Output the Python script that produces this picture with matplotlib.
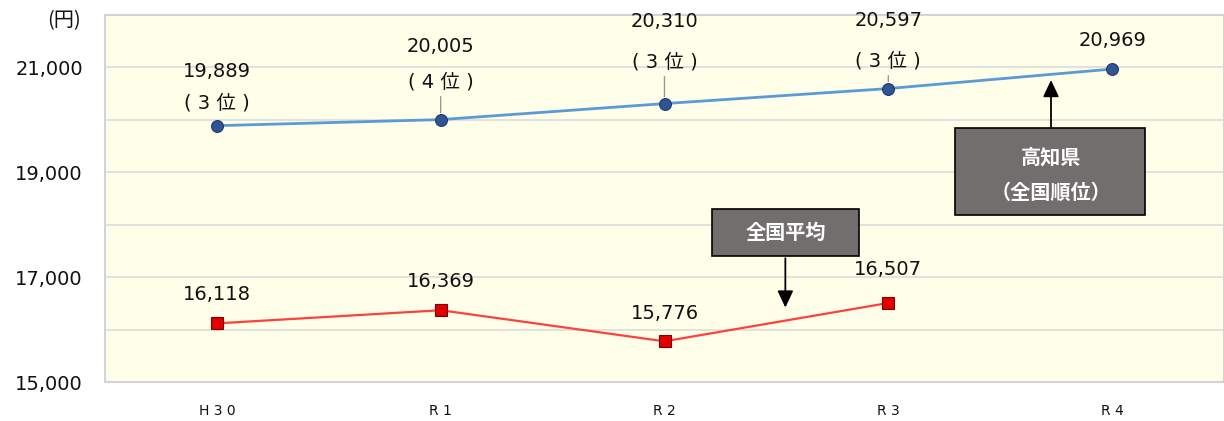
import matplotlib
matplotlib.use("Agg")
import matplotlib.pyplot as plt
from matplotlib.patches import Rectangle

plt.rcParams["font.family"] = ["DejaVu Sans", "Noto Sans CJK JP"]
JP = ["Noto Sans CJK JP", "DejaVu Sans"]

years = ["H 3 0", "R 1", "R 2", "R 3", "R 4"]
kochi = [19889, 20005, 20310, 20597, 20969]
kochi_rank = ["( 3 位 )", "( 4 位 )", "( 3 位 )", "( 3 位 )", None]
national = [16118, 16369, 15776, 16507]

# label offsets in pixels above each marker
kochi_val_off = [54, 73, 82, 68, 29]
kochi_rank_off = [23, 38, 42, 28, None]
kochi_leader = [False, True, True, True, False]
nat_val_off = [29, 29, 28, 33]

fig = plt.figure(figsize=(12.24, 4.21), dpi=100)
ax = fig.add_axes([105 / 1224, 1 - 382 / 421, 1 - 105 / 1224, 367 / 421])
ax.set_facecolor("#fefee9")

x = list(range(len(years)))
ax.plot(x, kochi, color="#5b9bd5", lw=2, zorder=3)
ax.plot(x, kochi, ls="none", marker="o", ms=8.5, mfc="#2f5597", mec="#1f3864", mew=0.8, zorder=4)
xn = x[:len(national)]
ax.plot(xn, national, color="#ff4040", lw=1.6, zorder=3)
ax.plot(xn, national, ls="none", marker="s", ms=8, mfc="#e00000", mec="#800000", mew=0.8, zorder=4)

for i, v in enumerate(kochi):
    ax.annotate(f"{v:,}", (i, v), xytext=(0, kochi_val_off[i]), textcoords="offset pixels",
                ha="center", va="center", fontsize=14, color="#111111")
    if kochi_rank[i]:
        props = None
        if kochi_leader[i]:
            props = dict(arrowstyle="-", color="#999999", lw=1, shrinkA=2, shrinkB=5)
        ax.annotate(kochi_rank[i], (i, v), xytext=(0, kochi_rank_off[i]), textcoords="offset pixels",
                    ha="center", va="center", fontsize=14, color="#111111",
                    arrowprops=props)

for i, v in enumerate(national):
    ax.annotate(f"{v:,}", (i, v), xytext=(0, nat_val_off[i]), textcoords="offset pixels",
                ha="center", va="center", fontsize=14, color="#111111")

# callout boxes
arrow = dict(arrowstyle="-|>,head_width=0.4,head_length=0.85", color="black", lw=1.3,
             mutation_scale=12, shrinkA=0, shrinkB=0)
ax.add_patch(Rectangle((2.211, 17400), 0.658, 900, facecolor="#726e6e", edgecolor="black",
                       lw=1.2, zorder=5))
ax.text(2.54, 17850, "全国平均", ha="center", va="center", color="white", fontsize=14.5,
        fontweight="bold", family=JP, zorder=6)
ax.annotate("", xy=(2.54, 16420), xytext=(2.54, 17360), arrowprops=arrow, zorder=6)

ax.add_patch(Rectangle((3.296, 18185), 0.853, 1660, facecolor="#726e6e", edgecolor="black",
                       lw=1.2, zorder=5))
ax.text(3.727, 19290, "高知県", ha="center", va="center", color="white", fontsize=14.5,
        fontweight="bold", family=JP, zorder=6)
ax.text(3.727, 18625, "（全国順位）", ha="center", va="center", color="white", fontsize=14.5,
        fontweight="bold", family=JP, zorder=6)
ax.annotate("", xy=(3.727, 20760), xytext=(3.727, 19865), arrowprops=arrow, zorder=6)

ax.set_xlim(-0.5, len(years) - 0.5)
ax.set_ylim(15000, 22000)
ax.set_yticks(range(15000, 22001, 2000))
ax.set_yticklabels([f"{t:,}" for t in range(15000, 22001, 2000)], fontsize=14, color="#111111")
ax.set_yticks(range(15000, 22001, 1000), minor=True)
ax.set_xticks(x)
ax.set_xticklabels(years, fontsize=10, color="#111111")
ax.tick_params(axis="both", which="both", length=0)
ax.tick_params(axis="y", pad=16)
ax.tick_params(axis="x", pad=16)
ax.grid(axis="y", which="both", color="#dcdcdc", lw=1.2, zorder=1)
ax.set_axisbelow(True)
for s in ax.spines.values():
    s.set_color("#d4d4d4")
    s.set_linewidth(1.5)

fig.text(64 / 1224, 1 - 21 / 421, "(円)", ha="center", va="center", fontsize=14.5, family=JP,
         color="#111111")

fig.savefig("out.png", dpi=100)
